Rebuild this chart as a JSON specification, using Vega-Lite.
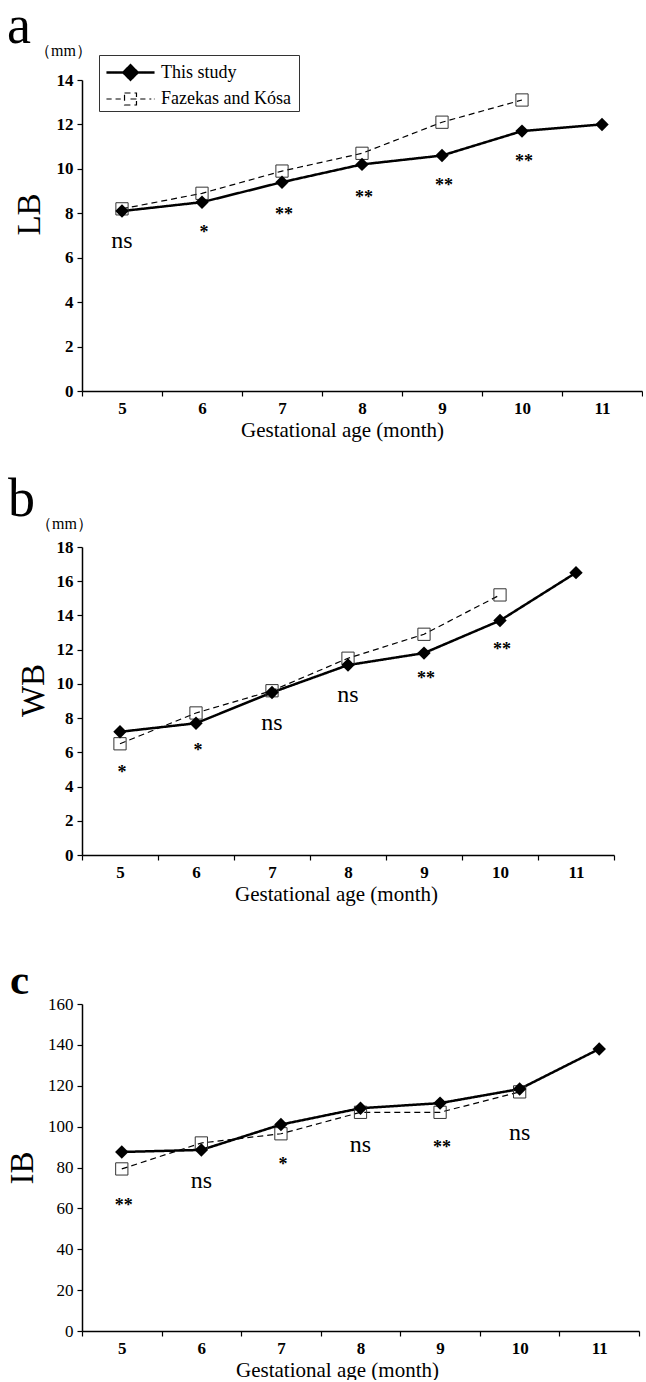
{
  "$schema": "https://vega.github.io/schema/vega-lite/v6.json",
  "background": "white",
  "padding": {"left": 6, "top": 0, "right": 0, "bottom": 0},
  "spacing": 56,
  "datasets": {
    "a": [
      {"month": 5, "value": 8.1, "series": "This study"},
      {"month": 6, "value": 8.5, "series": "This study"},
      {"month": 7, "value": 9.4, "series": "This study"},
      {"month": 8, "value": 10.2, "series": "This study"},
      {"month": 9, "value": 10.6, "series": "This study"},
      {"month": 10, "value": 11.7, "series": "This study"},
      {"month": 11, "value": 12.0, "series": "This study"},
      {"month": 5, "value": 8.2, "series": "Fazekas and  Kósa"},
      {"month": 6, "value": 8.9, "series": "Fazekas and  Kósa"},
      {"month": 7, "value": 9.9, "series": "Fazekas and  Kósa"},
      {"month": 8, "value": 10.7, "series": "Fazekas and  Kósa"},
      {"month": 9, "value": 12.1, "series": "Fazekas and  Kósa"},
      {"month": 10, "value": 13.1, "series": "Fazekas and  Kósa"}
    ],
    "annA": [
      {"month": 5, "value": 6.76, "label": "ns"},
      {"month": 6, "value": 7.3, "label": "*"},
      {"month": 7, "value": 8.1, "label": "**"},
      {"month": 8, "value": 8.87, "label": "**"},
      {"month": 9, "value": 9.41, "label": "**"},
      {"month": 10, "value": 10.5, "label": "**"}
    ],
    "b": [
      {"month": 5, "value": 7.2, "series": "This study"},
      {"month": 6, "value": 7.7, "series": "This study"},
      {"month": 7, "value": 9.5, "series": "This study"},
      {"month": 8, "value": 11.1, "series": "This study"},
      {"month": 9, "value": 11.8, "series": "This study"},
      {"month": 10, "value": 13.7, "series": "This study"},
      {"month": 11, "value": 16.5, "series": "This study"},
      {"month": 5, "value": 6.5, "series": "Fazekas and  Kósa"},
      {"month": 6, "value": 8.3, "series": "Fazekas and  Kósa"},
      {"month": 7, "value": 9.6, "series": "Fazekas and  Kósa"},
      {"month": 8, "value": 11.5, "series": "Fazekas and  Kósa"},
      {"month": 9, "value": 12.9, "series": "Fazekas and  Kósa"},
      {"month": 10, "value": 15.2, "series": "Fazekas and  Kósa"}
    ],
    "annB": [
      {"month": 5, "value": 5.0, "label": "*"},
      {"month": 6, "value": 6.3, "label": "*"},
      {"month": 7, "value": 7.7, "label": "ns"},
      {"month": 8, "value": 9.36, "label": "ns"},
      {"month": 9, "value": 10.5, "label": "**"},
      {"month": 10, "value": 12.2, "label": "**"}
    ],
    "c": [
      {"month": 5, "value": 87.6, "series": "This study"},
      {"month": 6, "value": 88.6, "series": "This study"},
      {"month": 7, "value": 101, "series": "This study"},
      {"month": 8, "value": 109, "series": "This study"},
      {"month": 9, "value": 111.5, "series": "This study"},
      {"month": 10, "value": 118.4, "series": "This study"},
      {"month": 11, "value": 138, "series": "This study"},
      {"month": 5, "value": 79.3, "series": "Fazekas and  Kósa"},
      {"month": 6, "value": 92, "series": "Fazekas and  Kósa"},
      {"month": 7, "value": 96.5, "series": "Fazekas and  Kósa"},
      {"month": 8, "value": 107, "series": "Fazekas and  Kósa"},
      {"month": 9, "value": 107, "series": "Fazekas and  Kósa"},
      {"month": 10, "value": 117, "series": "Fazekas and  Kósa"}
    ],
    "annC": [
      {"month": 5, "value": 63, "label": "**"},
      {"month": 6, "value": 73.4, "label": "ns"},
      {"month": 7, "value": 83, "label": "*"},
      {"month": 8, "value": 91, "label": "ns"},
      {"month": 9, "value": 91.5, "label": "**"},
      {"month": 10, "value": 97, "label": "ns"}
    ]
  },
  "config": {
    "view": {"stroke": null},
    "font": "Liberation Serif",
    "axis": {
      "grid": false,
      "domainColor": "#000",
      "domainWidth": 1.5,
      "tickColor": "#000",
      "tickWidth": 1.2,
      "tickSize": 5,
      "labelFont": "Liberation Serif",
      "labelFontSize": 17,
      "labelFontWeight": "bold",
      "labelColor": "#000",
      "labelFlush": false,
      "labelOverlap": false,
      "titleFont": "Liberation Serif",
      "titleFontWeight": "normal",
      "titleColor": "#000"
    },
    "axisX": {
      "values": [4.5, 5, 5.5, 6, 6.5, 7, 7.5, 8, 8.5, 9, 9.5, 10, 10.5, 11, 11.5],
      "labelExpr": "datum.value % 1 === 0 ? datum.value : ''",
      "tickOpacity": {"condition": {"test": "datum.value % 1 === 0", "value": 0}, "value": 1},
      "labelPadding": 4,
      "titleFontSize": 21,
      "titlePadding": 3
    },
    "axisY": {
      "labelPadding": 4,
      "titleFontSize": 33,
      "titlePadding": 10
    },
    "legend": {
      "orient": "none",
      "title": null,
      "strokeColor": "#333",
      "fillColor": "white",
      "padding": 3,
      "symbolSize": 676,
      "symbolOffset": 14,
      "labelOffset": 16,
      "rowPadding": 0,
      "labelFont": "Liberation Serif",
      "labelFontSize": 18,
      "labelColor": "#000",
      "labelLimit": 300
    }
  },
  "vconcat": [
    {
      "spacing": 33,
      "vconcat": [
        {
          "width": 560,
          "height": 311,
          "title": {"text": "a", "subtitle": "\u200b\u00a0\u00a0\u00a0\u00a0\u00a0\u00a0\u00a0（mm）", "anchor": "start", "frame": "group", "dx": -75, "fontSize": 54, "fontWeight": "normal", "font": "Liberation Serif", "color": "#000", "subtitleFont": "Liberation Serif", "subtitleFontSize": 16, "subtitleColor": "#000", "subtitlePadding": -11, "offset": 12},
          "encoding": {
            "x": {"field": "month", "type": "quantitative", "scale": {"domain": [4.5, 11.5], "nice": false, "zero": false}, "axis": {"title": "Gestational age (month)", "titleX": 260}},
            "y": {"field": "value", "type": "quantitative", "scale": {"domain": [0, 14], "nice": false}, "axis": {"values": [0, 2, 4, 6, 8, 10, 12, 14], "labelOverlap": false, "title": "LB", "titleY": 134}}
          },
          "layer": [
            {
              "data": {"name": "a"},
              "mark": {"type": "line", "color": "#000"},
              "encoding": {
                "strokeDash": {"field": "series", "type": "nominal", "scale": {"domain": ["This study", "Fazekas and  Kósa"], "range": [[1, 0], [6, 4]]},
                  "legend": {"legendX": 17, "legendY": -25,
                    "encoding": {"symbols": {
                      "shape": {"value": {"expr": "datum.value === 'This study' ? 'M-1.85,0L1.85,0M-0.55,0L0,-0.55L0.55,0L0,0.55Z' : 'M-1.85,0L-1.45,0M-1.15,0L-0.75,0M-0.46,-0.46L0.46,-0.46L0.46,0.46L-0.46,0.46ZM0,0L0.46,0M0.75,0L1.15,0M1.45,0L1.6,0M1.8,0L1.85,0'"}},
                      "fill": {"value": {"expr": "datum.value === 'This study' ? '#000' : 'transparent'"}},
                      "stroke": {"value": "#000"},
                      "strokeDash": {"value": [1, 0]},
                      "strokeWidth": {"value": {"expr": "datum.value === 'This study' ? 2.5 : 1"}},
                      "opacity": {"value": 1}
                    }}}},
                "strokeWidth": {"field": "series", "type": "nominal", "scale": {"domain": ["This study", "Fazekas and  Kósa"], "range": [2.5, 1.2]}, "legend": null}
              }
            },
            {
              "data": {"name": "a"},
              "transform": [{"filter": "datum.series === 'Fazekas and  Kósa'"}],
              "mark": {"type": "point", "shape": "square", "filled": false, "stroke": "#333", "strokeWidth": 1, "size": 150, "opacity": 1}
            },
            {
              "data": {"name": "a"},
              "transform": [{"filter": "datum.series === 'This study'"}],
              "mark": {"type": "point", "shape": "diamond", "filled": true, "color": "#000", "size": 180, "opacity": 1}
            },
            {
              "data": {"name": "annA"},
              "transform": [{"filter": "datum.label === 'ns'"}],
              "mark": {"type": "text", "font": "Liberation Serif", "fontSize": 24, "baseline": "middle", "color": "#000"},
              "encoding": {"text": {"field": "label"}}
            },
            {
              "data": {"name": "annA"},
              "transform": [{"filter": "datum.label !== 'ns'"}],
              "mark": {"type": "text", "font": "Liberation Serif", "fontSize": 18, "fontWeight": "bold", "baseline": "middle", "dy": 4, "dx": 2, "color": "#000"},
              "encoding": {"text": {"field": "label"}}
            }
          ]
        },
        {
          "width": 532,
          "height": 308,
          "title": {"text": "b", "subtitle": "\u200b\u00a0\u00a0\u00a0\u00a0\u00a0\u00a0\u00a0（mm）", "anchor": "start", "frame": "group", "dx": -74, "fontSize": 54, "fontWeight": "normal", "font": "Liberation Serif", "color": "#000", "subtitleFont": "Liberation Serif", "subtitleFontSize": 16, "subtitleColor": "#000", "subtitlePadding": -11, "offset": 6},
          "encoding": {
            "x": {"field": "month", "type": "quantitative", "scale": {"domain": [4.5, 11.5], "nice": false, "zero": false}, "axis": {"title": "Gestational age (month)", "titleX": 254}},
            "y": {"field": "value", "type": "quantitative", "scale": {"domain": [0, 18], "nice": false}, "axis": {"values": [0, 2, 4, 6, 8, 10, 12, 14, 16, 18], "labelOverlap": false, "title": "WB", "titleY": 143, "titlePadding": 6}}
          },
          "layer": [
            {
              "data": {"name": "b"},
              "mark": {"type": "line", "color": "#000"},
              "encoding": {
                "strokeDash": {"field": "series", "type": "nominal", "scale": {"domain": ["This study", "Fazekas and  Kósa"], "range": [[1, 0], [6, 4]]},
                  "legend": {"legendX": 20, "legendY": -14,
                    "encoding": {"symbols": {
                      "shape": {"value": {"expr": "datum.value === 'This study' ? 'M-1.85,0L1.85,0M-0.55,0L0,-0.55L0.55,0L0,0.55Z' : 'M-1.85,0L-1.45,0M-1.15,0L-0.75,0M-0.46,-0.46L0.46,-0.46L0.46,0.46L-0.46,0.46ZM0,0L0.46,0M0.75,0L1.15,0M1.45,0L1.6,0M1.8,0L1.85,0'"}},
                      "fill": {"value": {"expr": "datum.value === 'This study' ? '#000' : 'transparent'"}},
                      "stroke": {"value": "#000"},
                      "strokeDash": {"value": [1, 0]},
                      "strokeWidth": {"value": {"expr": "datum.value === 'This study' ? 2.5 : 1"}},
                      "opacity": {"value": 1}
                    }}}},
                "strokeWidth": {"field": "series", "type": "nominal", "scale": {"domain": ["This study", "Fazekas and  Kósa"], "range": [2.5, 1.2]}, "legend": null}
              }
            },
            {
              "data": {"name": "b"},
              "transform": [{"filter": "datum.series === 'Fazekas and  Kósa'"}],
              "mark": {"type": "point", "shape": "square", "filled": false, "stroke": "#333", "strokeWidth": 1, "size": 150, "opacity": 1}
            },
            {
              "data": {"name": "b"},
              "transform": [{"filter": "datum.series === 'This study'"}],
              "mark": {"type": "point", "shape": "diamond", "filled": true, "color": "#000", "size": 180, "opacity": 1}
            },
            {
              "data": {"name": "annB"},
              "transform": [{"filter": "datum.label === 'ns'"}],
              "mark": {"type": "text", "font": "Liberation Serif", "fontSize": 24, "baseline": "middle", "color": "#000"},
              "encoding": {"text": {"field": "label"}}
            },
            {
              "data": {"name": "annB"},
              "transform": [{"filter": "datum.label !== 'ns'"}],
              "mark": {"type": "text", "font": "Liberation Serif", "fontSize": 18, "fontWeight": "bold", "baseline": "middle", "dy": 4, "dx": 2, "color": "#000"},
              "encoding": {"text": {"field": "label"}}
            }
          ]
        }
      ]
    },
    {
      "width": 557,
      "height": 327,
      "title": {"text": "c", "anchor": "start", "frame": "group", "dx": -72, "fontSize": 43, "fontWeight": "bold", "font": "Liberation Serif", "color": "#000", "offset": -8},
      "encoding": {
        "x": {"field": "month", "type": "quantitative", "scale": {"domain": [4.5, 11.5], "nice": false, "zero": false}, "axis": {"title": "Gestational age (month)", "titleX": 255}},
        "y": {"field": "value", "type": "quantitative", "scale": {"domain": [0, 160], "nice": false}, "axis": {"values": [0, 20, 40, 60, 80, 100, 120, 140, 160], "labelOverlap": false, "title": "IB", "labelFontWeight": "normal", "titlePadding": 8}}
      },
      "layer": [
        {
          "data": {"name": "c"},
          "mark": {"type": "line", "color": "#000"},
          "encoding": {
            "strokeDash": {"field": "series", "type": "nominal", "scale": {"domain": ["This study", "Fazekas and  Kósa"], "range": [[1, 0], [6, 4]]},
              "legend": {"legendX": 25, "legendY": -13,
                "encoding": {"symbols": {
                  "shape": {"value": {"expr": "datum.value === 'This study' ? 'M-1.85,0L1.85,0M-0.55,0L0,-0.55L0.55,0L0,0.55Z' : 'M-1.85,0L-1.45,0M-1.15,0L-0.75,0M-0.46,-0.46L0.46,-0.46L0.46,0.46L-0.46,0.46ZM0,0L0.46,0M0.75,0L1.15,0M1.45,0L1.6,0M1.8,0L1.85,0'"}},
                  "fill": {"value": {"expr": "datum.value === 'This study' ? '#000' : 'transparent'"}},
                  "stroke": {"value": "#000"},
                  "strokeDash": {"value": [1, 0]},
                  "strokeWidth": {"value": {"expr": "datum.value === 'This study' ? 2.5 : 1"}},
                  "opacity": {"value": 1}
                }}}},
            "strokeWidth": {"field": "series", "type": "nominal", "scale": {"domain": ["This study", "Fazekas and  Kósa"], "range": [2.5, 1.2]}, "legend": null}
          }
        },
        {
          "data": {"name": "c"},
          "transform": [{"filter": "datum.series === 'Fazekas and  Kósa'"}],
          "mark": {"type": "point", "shape": "square", "filled": false, "stroke": "#333", "strokeWidth": 1, "size": 150, "opacity": 1}
        },
        {
          "data": {"name": "c"},
          "transform": [{"filter": "datum.series === 'This study'"}],
          "mark": {"type": "point", "shape": "diamond", "filled": true, "color": "#000", "size": 180, "opacity": 1}
        },
        {
          "data": {"name": "annC"},
          "transform": [{"filter": "datum.label === 'ns'"}],
          "mark": {"type": "text", "font": "Liberation Serif", "fontSize": 24, "baseline": "middle", "color": "#000"},
          "encoding": {"text": {"field": "label"}}
        },
        {
          "data": {"name": "annC"},
          "transform": [{"filter": "datum.label !== 'ns'"}],
          "mark": {"type": "text", "font": "Liberation Serif", "fontSize": 18, "fontWeight": "bold", "baseline": "middle", "dy": 4, "dx": 2, "color": "#000"},
          "encoding": {"text": {"field": "label"}}
        }
      ]
    }
  ]
}
